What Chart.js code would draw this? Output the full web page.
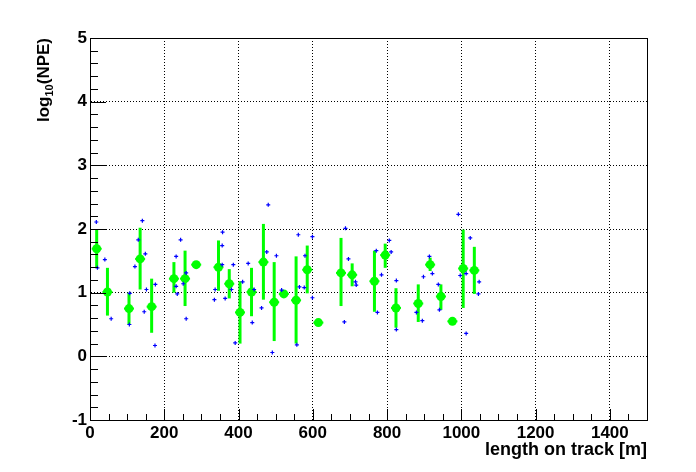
<!DOCTYPE html>
<html>
<head>
<meta charset="utf-8">
<script src="https://cdn.jsdelivr.net/npm/chart.js@4/dist/chart.umd.min.js"></script>
<style>
  html, body { margin: 0; padding: 0; background: #fff; }
  #wrap { width: 696px; height: 472px; }
</style>
</head>
<body>
<div id="wrap"><canvas id="chart" width="696" height="472"></canvas></div>
<script>
// green points: mean log10(NPE) per track-length bin, with error ends
const binX   = [18, 47, 105, 135, 166, 226, 256, 286, 346, 375, 404, 435, 467, 496, 522, 555, 585, 615, 676, 706, 766, 795, 824, 884, 916, 945, 976, 1005, 1035];
const binY   = [1.69, 1.01, 0.75, 1.53, 0.78, 1.22, 1.22, 1.44, 1.40, 1.14, 0.69, 1.01, 1.48, 0.85, 0.98, 0.88, 1.36, 0.53, 1.31, 1.28, 1.18, 1.59, 0.76, 0.83, 1.44, 0.94, 0.55, 1.38, 1.35];
const binHi  = [2.00, 1.39, 1.00, 2.02, 1.22, 1.48, 1.66, 1.44, 1.82, 1.37, 1.18, 1.39, 2.08, 1.48, 0.98, 1.57, 1.74, 0.53, 1.86, 1.46, 1.66, 1.77, 1.07, 1.13, 1.55, 1.13, 0.55, 1.99, 1.72];
const binLo  = [1.39, 0.64, 0.50, 1.05, 0.37, 1.00, 0.79, 1.44, 1.03, 0.91, 0.20, 0.63, 0.89, 0.24, 0.98, 0.20, 0.99, 0.53, 0.79, 1.10, 0.70, 1.39, 0.45, 0.54, 1.34, 0.73, 0.55, 0.76, 0.98];

// blue crosses: single events
const evtX = [17, 20, 40, 57, 107, 106, 141, 130, 121, 149, 152, 146, 176, 175, 244, 232, 232, 235, 259, 251, 259,
              357, 356, 356, 337, 335, 364, 386, 381, 391, 411, 426, 437, 442, 476, 480, 462, 502, 491, 516,
              561, 599, 579, 564, 577, 599, 557, 688, 696, 715, 717, 685, 771, 785, 774, 806, 811, 825, 825,
              898, 895, 879, 914, 922, 938, 941, 992, 1024, 997, 1013, 1013, 1048, 1046];
const evtY = [2.11, 1.39, 1.52, 0.59, 0.99, 0.50, 2.13, 1.83, 1.41, 1.61, 1.05, 0.70, 1.13, 0.17, 1.83, 1.57, 1.10, 0.98, 1.31, 1.14, 0.59,
              1.95, 1.74, 1.44, 1.05, 0.89, 0.91, 1.44, 1.05, 0.21, 1.17, 1.46, 0.53, 1.05, 1.64, 2.38, 0.76, 1.58, 0.06, 1.04,
              1.91, 1.88, 1.58, 1.09, 1.08, 0.92, 0.18, 2.01, 1.53, 1.17, 1.12, 0.54, 1.66, 1.28, 0.69, 1.82, 1.64, 1.19, 0.42,
              1.25, 0.56, 0.69, 1.57, 1.30, 1.13, 0.73, 2.23, 1.86, 1.27, 0.36, 1.30, 1.17, 0.98];

const xTicks = [0, 200, 400, 600, 800, 1000, 1200, 1400];
const yTicks = [-1, 0, 1, 2, 3, 4, 5];

const green = '#00ff00';
const blue = '#0000ff';
const font = 'Liberation Sans, Arial, Helvetica, sans-serif';

const errorBars = {
    id: 'errorBars',
    beforeDatasetsDraw(chart) {
        const { ctx, scales: { x, y } } = chart;
        ctx.save();
        ctx.strokeStyle = green;
        binX.forEach((v, i) => {
            const px = x.getPixelForValue(v);
            const py = y.getPixelForValue(binY[i]);
            ctx.lineWidth = 3;
            ctx.beginPath();
            ctx.moveTo(px, y.getPixelForValue(binHi[i]));
            ctx.lineTo(px, y.getPixelForValue(binLo[i]));
            ctx.stroke();
            ctx.lineWidth = 2;
            ctx.beginPath();
            ctx.moveTo(px - 5, py);
            ctx.lineTo(px + 5, py);
            ctx.stroke();
        });
        ctx.restore();
    }
};

const rootFrame = {
    id: 'rootFrame',
    afterDraw(chart) {
        const { ctx, chartArea: a, scales: { x, y } } = chart;
        ctx.save();
        ctx.strokeStyle = '#000';
        ctx.lineWidth = 1;
        ctx.beginPath();
        for (let k = 0; k <= 30; k++) {
            const v = -1 + k * 0.2;
            const py = Math.round(y.getPixelForValue(v)) + 0.5;
            const len = k % 5 === 0 ? 16 : 8;
            ctx.moveTo(a.left, py);
            ctx.lineTo(a.left + len, py);
        }
        for (let v = 0; v <= 1500; v += 50) {
            const px = Math.round(x.getPixelForValue(v)) + 0.5;
            const len = v % 200 === 0 ? 11 : 6;
            ctx.moveTo(px, a.bottom);
            ctx.lineTo(px, a.bottom - len);
        }
        ctx.stroke();
        ctx.strokeRect(Math.round(a.left) + 0.5, Math.round(a.top) + 0.5,
                       Math.round(a.right - a.left), Math.round(a.bottom - a.top));

        // axis titles
        ctx.fillStyle = '#000';
        ctx.font = `bold 18px ${font}`;
        ctx.textAlign = 'right';
        ctx.textBaseline = 'alphabetic';
        ctx.fillText('length on track [m]', a.right, 455);

        ctx.translate(49, a.top);
        ctx.rotate(-Math.PI / 2);
        ctx.textAlign = 'left';
        const big = `bold 17px ${font}`, small = `bold 11px ${font}`;
        ctx.font = big; const w1 = ctx.measureText('log').width; const w3 = ctx.measureText('(NPE)').width;
        ctx.font = small; const w2 = ctx.measureText('10').width;
        let pos = -(w1 + w2 + w3);
        ctx.font = big; ctx.fillText('log', pos, 0); pos += w1;
        ctx.font = small; ctx.fillText('10', pos, 4); pos += w2;
        ctx.font = big; ctx.fillText('(NPE)', pos, 0);
        ctx.restore();
    }
};

const ctx = document.getElementById('chart');
new Chart(ctx, {
    type: 'scatter',
    data: {
        datasets: [
            {
                label: 'events',
                data: evtX.map((v, i) => ({ x: v, y: evtY[i] })),
                pointStyle: 'cross',
                pointRadius: 2,
                pointBorderColor: blue,
                pointBorderWidth: 1.2,
                order: 0
            },
            {
                label: 'mean',
                data: binX.map((v, i) => ({ x: v, y: binY[i] })),
                pointStyle: 'circle',
                pointRadius: 4.5,
                pointBackgroundColor: green,
                pointBorderColor: green,
                pointBorderWidth: 0,
                order: 1
            }
        ]
    },
    options: {
        responsive: false,
        animation: false,
        devicePixelRatio: 1,
        layout: { autoPadding: false, padding: { left: 0, top: 38, right: 49, bottom: 0 } },
        plugins: { legend: { display: false }, tooltip: { enabled: false } },
        scales: {
            x: {
                type: 'linear', min: 0, max: 1500,
                afterBuildTicks: s => { s.ticks = xTicks.map(v => ({ value: v })); },
                afterFit: s => { s.height = 52; },
                ticks: { color: '#000', font: { family: font, size: 17, weight: 'bold' }, padding: 3, maxRotation: 0, callback: v => String(v) },
                grid: { color: '#000', lineWidth: 1, drawTicks: false },
                border: { display: true, color: '#000', width: 1, dash: [1, 2] }
            },
            y: {
                type: 'linear', min: -1, max: 5,
                afterBuildTicks: s => { s.ticks = yTicks.map(v => ({ value: v })); },
                afterFit: s => { s.width = 90; },
                ticks: { color: '#000', font: { family: font, size: 17, weight: 'bold' }, padding: 3, callback: v => String(v) },
                grid: { color: '#000', lineWidth: 1, drawTicks: false },
                border: { display: true, color: '#000', width: 1, dash: [1, 2] }
            }
        }
    },
    plugins: [errorBars, rootFrame]
});
</script>
</body>
</html>
